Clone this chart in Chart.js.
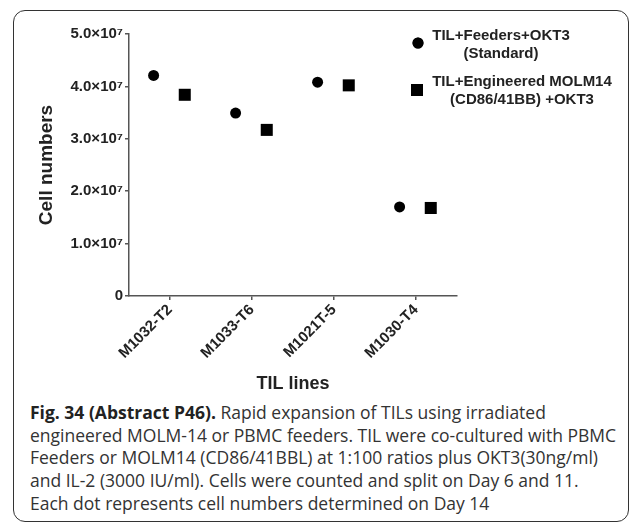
<!DOCTYPE html>
<html><head><meta charset="utf-8">
<script src="https://cdn.jsdelivr.net/npm/chart.js@4/dist/chart.umd.min.js"></script>
<style>
html,body{margin:0;padding:0;background:#fff;width:632px;height:523px;overflow:hidden;}
#frame{position:absolute;left:13px;top:10px;width:616px;height:512px;border:1.5px solid #333;border-radius:12px;box-sizing:border-box;}
#wrap{position:absolute;left:0;top:0;width:632px;height:400px;}
#cap{position:absolute;left:30px;top:401px;font-family:"Open Sans",sans-serif;font-size:17.5px;line-height:22.7px;color:#333;white-space:nowrap;}
#cap b{color:#222;}
</style></head>
<body>
<div id="frame"></div>
<div id="wrap"><canvas id="c" width="632" height="400"></canvas></div>
<div id="cap"><b>Fig. 34 (Abstract P46).</b> Rapid expansion of TILs using irradiated<br>engineered MOLM-14 or PBMC feeders. TIL were co-cultured with PBMC<br>Feeders or MOLM14 (CD86/41BBL) at 1:100 ratios plus OKT3(30ng/ml)<br>and IL-2 (3000 IU/ml). Cells were counted and split on Day 6 and 11.<br>Each dot represents cell numbers determined on Day 14</div>
<script>
const categories = ['M1032-T2','M1033-T6','M1021T-5','M1030-T4'];
const standardValues = [4.21e7, 3.49e7, 4.08e7, 1.70e7];
const engineeredValues = [3.84e7, 3.17e7, 4.02e7, 1.68e7];
const seriesLabels = [['TIL+Feeders+OKT3','(Standard)'], ['TIL+Engineered MOLM14','(CD86/41BB) +OKT3']];
const yTickLabels = ['0','1.0×10⁷','2.0×10⁷','3.0×10⁷','4.0×10⁷','5.0×10⁷'];
const yTickValues = [0, 1e7, 2e7, 3e7, 4e7, 5e7];
const dodge = [-0.2, 0.18];

const AX = '#555';
const TXT = '#222';
const FONT = '"Liberation Sans", Arial, sans-serif';

function toPoints(vals, d){ return vals.map((v,i)=>({x:i+d, y:v})); }

const legendPlugin = {
  id:'customLegend',
  afterDraw(chart){
    const ctx = chart.ctx;
    const pos = [{mx:418, my:43, tx:501, ty:[36,54]}, {mx:417, my:90, tx:522, ty:[82,100]}];
    chart.data.datasets.forEach((ds,i)=>{
      const p = pos[i];
      ctx.save();
      Chart.helpers.drawPoint(ctx, {pointStyle: ds.pointStyle, radius: ds.pointRadius, borderWidth:0}, p.mx, p.my);
      ctx.fillStyle = '#000';
      ctx.fill();
      ctx.font = 'bold 15px ' + FONT;
      ctx.fillStyle = TXT;
      ctx.textAlign = 'center';
      ctx.textBaseline = 'middle';
      ds.label.forEach((l,j)=>ctx.fillText(l, p.tx, p.ty[j]));
      ctx.restore();
    });
  }
};

new Chart(document.getElementById('c'), {
  type:'scatter',
  data:{datasets:[
    {label:seriesLabels[0], data:toPoints(standardValues,dodge[0]), pointStyle:'circle', pointRadius:5.5, backgroundColor:'#000', borderColor:'#000', borderWidth:0},
    {label:seriesLabels[1], data:toPoints(engineeredValues,dodge[1]), pointStyle:'rect', pointRadius:8.5, backgroundColor:'#000', borderColor:'#000', borderWidth:0}
  ]},
  options:{
    responsive:false, animation:false, devicePixelRatio:1,
    layout:{padding:{left:35, top:34, right:175, bottom:4}},
    plugins:{legend:{display:false}, tooltip:{enabled:false}},
    scales:{
      x:{type:'linear', min:-0.5, max:3.5,
        afterBuildTicks(s){ s.ticks = categories.map((_,i)=>({value:i})); },
        afterFit(s){ s.height = 400 - 4 - 296; },
        grid:{display:true, drawOnChartArea:false, drawTicks:true, tickLength:4, color:AX, lineWidth:1.5},
        border:{display:true, color:AX, width:1.5},
        ticks:{autoSkip:false, minRotation:45, maxRotation:45, padding:1, color:TXT, font:{family:FONT, size:15, weight:'bold'},
          callback:(v)=>categories[Math.round(v)]},
        title:{display:true, text:'TIL lines', color:TXT, font:{family:FONT, size:18, weight:'bold'}, padding:{top:0,bottom:1}}
      },
      y:{min:0, max:5e7,
        afterBuildTicks(s){ s.ticks = yTickValues.map(v=>({value:v})); },
        afterFit(s){ s.width = 94; },
        grid:{display:true, drawOnChartArea:false, drawTicks:true, tickLength:4, color:AX, lineWidth:1.5},
        border:{display:true, color:AX, width:1.5},
        ticks:{padding:2, color:TXT, font:{family:FONT, size:15, weight:'bold'},
          callback:(v,i)=>yTickLabels[i]},
        title:{display:true, text:'Cell numbers', color:TXT, font:{family:FONT, size:19, weight:'bold'}, padding:{top:0,bottom:0}}
      }
    }
  },
  plugins:[legendPlugin]
});
</script>
</body></html>
